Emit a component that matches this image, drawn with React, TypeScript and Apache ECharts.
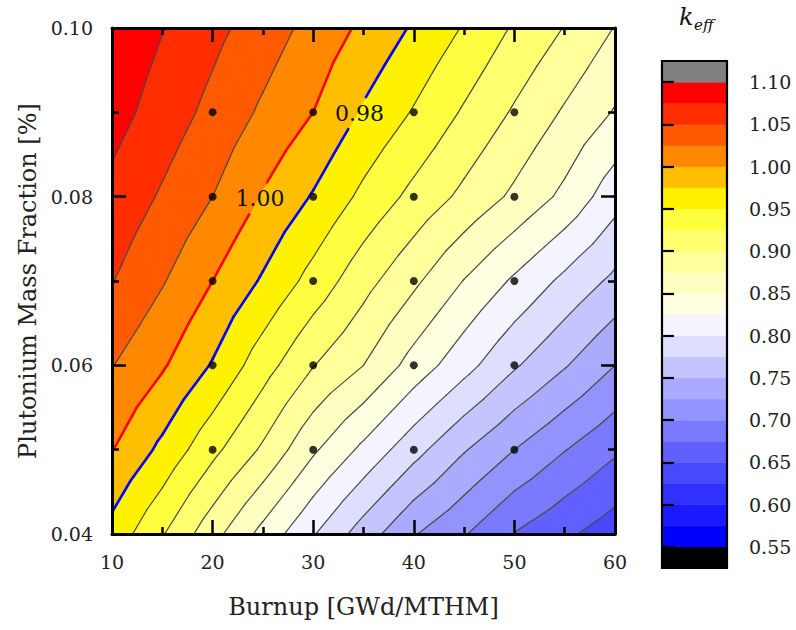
import React, { useEffect, useRef } from "react";
import * as echarts from "echarts";

// ---- Data ----
const burnup = [10, 15, 20, 25, 30, 35, 40, 45, 50, 55, 60];
const puFraction = [0.04, 0.05, 0.06, 0.07, 0.08, 0.09, 0.1];
const keffAt004 = [0.966, 0.927, 0.884, 0.842, 0.802, 0.763, 0.727, 0.702, 0.674, 0.655, 0.636];
const keffAt005 = [1.001, 0.969, 0.932, 0.896, 0.854, 0.819, 0.784, 0.752, 0.725, 0.701, 0.679];
const keffAt006 = [1.026, 1.003, 0.973, 0.936, 0.901, 0.875, 0.84, 0.809, 0.778, 0.752, 0.725];
const keffAt007 = [1.051, 1.027, 1.0, 0.972, 0.941, 0.909, 0.88, 0.849, 0.821, 0.794, 0.769];
const keffAt008 = [1.068, 1.047, 1.025, 0.998, 0.973, 0.944, 0.918, 0.894, 0.87, 0.844, 0.81];
const keffAt009 = [1.085, 1.064, 1.043, 1.021, 1.0, 0.972, 0.948, 0.922, 0.897, 0.872, 0.848];
const keffAt010 = [1.095, 1.076, 1.057, 1.038, 1.017, 0.995, 0.972, 0.948, 0.922, 0.899, 0.874];
const keffGrid = [keffAt004, keffAt005, keffAt006, keffAt007, keffAt008, keffAt009, keffAt010];

const contourLevels = [
  0.55, 0.575, 0.6, 0.625, 0.65, 0.675, 0.7, 0.725, 0.75, 0.775, 0.8, 0.825,
  0.85, 0.875, 0.9, 0.925, 0.95, 0.975, 1.0, 1.025, 1.05, 1.075, 1.1,
];
const bandColors = [
  "#000000", "#0000ff", "#1a1aff", "#3030ff", "#4848ff", "#6060ff", "#7a7aff",
  "#9393ff", "#aaaaff", "#c4c4ff", "#dedeff", "#f4f4ff", "#ffffe2", "#ffffc2",
  "#ffff9c", "#ffff70", "#ffff40", "#fff200", "#ffbf00", "#ff8800", "#ff5a00",
  "#ff2d00", "#ff0000", "#808080",
];
const colorbarTicks = [0.55, 0.6, 0.65, 0.7, 0.75, 0.8, 0.85, 0.9, 0.95, 1.0, 1.05, 1.1];
const colorbarMin = 0.525;
const colorbarMax = 1.125;

const sampleBurnup = [20, 30, 40, 50];
const samplePu = [0.05, 0.06, 0.07, 0.08, 0.09];

const highlightLevels = [1.0, 0.975];
const highlightColors = ["#ff0000", "#0000ff"];
const labelTexts = ["1.00", "0.98"];
const labelLevels = [1.0, 0.975];
const labelBurnup = [24.7, 34.6];
const labelPu = [0.0798, 0.0899];

const FONT = '"DejaVu Serif", serif';

type P = { x: number; y: number; v: number };

function clipBand(poly: P[], lo: number, hi: number): P[] {
  const clip = (pts: P[], keep: (v: number) => boolean, lvl: number): P[] => {
    const out: P[] = [];
    for (let k = 0; k < pts.length; k++) {
      const a = pts[k];
      const b = pts[(k + 1) % pts.length];
      const ain = keep(a.v);
      const bin = keep(b.v);
      if (ain) out.push(a);
      if (ain !== bin) {
        const t = (lvl - a.v) / (b.v - a.v);
        out.push({ x: a.x + t * (b.x - a.x), y: a.y + t * (b.y - a.y), v: lvl });
      }
    }
    return out;
  };
  let r = poly;
  if (isFinite(lo)) r = clip(r, (v) => v >= lo, lo);
  if (r.length < 3) return [];
  if (isFinite(hi)) r = clip(r, (v) => v <= hi, hi);
  return r.length >= 3 ? r : [];
}

function cellTriangles(api: any, i: number, j: number): P[][] {
  const pt = (ii: number, jj: number): P => {
    const c = api.coord([burnup[ii], puFraction[jj]]);
    return { x: c[0], y: c[1], v: keffGrid[jj][ii] };
  };
  const c0 = pt(i, j);
  const c1 = pt(i + 1, j);
  const c2 = pt(i + 1, j + 1);
  const c3 = pt(i, j + 1);
  const ctr: P = {
    x: (c0.x + c1.x + c2.x + c3.x) / 4,
    y: (c0.y + c1.y + c2.y + c3.y) / 4,
    v: (c0.v + c1.v + c2.v + c3.v) / 4,
  };
  return [
    [c0, c1, ctr],
    [c1, c2, ctr],
    [c2, c3, ctr],
    [c3, c0, ctr],
  ];
}

function outsideParts(x0: number, y0: number, x1: number, y1: number, r: number[]): number[][] {
  const dx = x1 - x0;
  const dy = y1 - y0;
  let t0 = 0;
  let t1 = 1;
  const p = [-dx, dx, -dy, dy];
  const q = [x0 - r[0], r[2] - x0, y0 - r[1], r[3] - y0];
  for (let k = 0; k < 4; k++) {
    if (p[k] === 0) {
      if (q[k] < 0) return [[x0, y0, x1, y1]];
    } else {
      const t = q[k] / p[k];
      if (p[k] < 0) t0 = Math.max(t0, t);
      else t1 = Math.min(t1, t);
    }
  }
  if (t0 > t1) return [[x0, y0, x1, y1]];
  const parts: number[][] = [];
  if (t0 > 0) parts.push([x0, y0, x0 + t0 * dx, y0 + t0 * dy]);
  if (t1 < 1) parts.push([x0 + t1 * dx, y0 + t1 * dy, x1, y1]);
  return parts;
}

export default function App() {
  const ref = useRef<HTMLDivElement>(null);

  useEffect(() => {
    if (!ref.current) return;
    const chart = echarts.init(ref.current, undefined, { renderer: "svg" });

    const cells: number[][] = [];
    for (let j = 0; j < puFraction.length - 1; j++) {
      for (let i = 0; i < burnup.length - 1; i++) {
        cells.push([burnup[i], puFraction[j], i, j]);
      }
    }
    const samples: number[][] = [];
    samplePu.forEach((p) => sampleBurnup.forEach((b) => samples.push([b, p])));
    const labels = labelTexts.map((_, k) => [labelBurnup[k], labelPu[k], k]);
    const bands = bandColors.map((_, k) => [0.5, k === 0 ? colorbarMin : contourLevels[k - 1], k]);

    const fillRender = (params: any, api: any) => {
      const i = api.value(2);
      const j = api.value(3);
      const children: any[] = [];
      for (const tri of cellTriangles(api, i, j)) {
        for (let k = 0; k < bandColors.length; k++) {
          const lo = k === 0 ? -Infinity : contourLevels[k - 1];
          const hi = k === contourLevels.length ? Infinity : contourLevels[k];
          const poly = clipBand(tri, lo, hi);
          if (poly.length >= 3) {
            children.push({
              type: "polygon",
              silent: true,
              shape: { points: poly.map((p) => [p.x, p.y]) },
              style: { fill: bandColors[k], stroke: bandColors[k], lineWidth: 0.8 },
            });
          }
        }
      }
      return { type: "group", children };
    };

    const labelRects = (api: any) =>
      labelTexts.map((_, k) => {
        const c = api.coord([labelBurnup[k], labelPu[k]]);
        return { level: labelLevels[k], r: [c[0] - 30, c[1] - 16, c[0] + 30, c[1] + 16] };
      });

    const lineRender = (params: any, api: any) => {
      const i = api.value(2);
      const j = api.value(3);
      const rects = labelRects(api);
      const thin: any[] = [];
      const bold: any[] = [];
      for (const tri of cellTriangles(api, i, j)) {
        for (const L of contourLevels) {
          const pts: number[][] = [];
          for (let e = 0; e < 3; e++) {
            const a = tri[e];
            const b = tri[(e + 1) % 3];
            if ((a.v < L) !== (b.v < L)) {
              const t = (L - a.v) / (b.v - a.v);
              pts.push([a.x + t * (b.x - a.x), a.y + t * (b.y - a.y)]);
            }
          }
          if (pts.length !== 2) continue;
          const hIdx = highlightLevels.findIndex((h) => Math.abs(h - L) < 1e-9);
          let segs = [[pts[0][0], pts[0][1], pts[1][0], pts[1][1]]];
          for (const lr of rects) {
            if (Math.abs(lr.level - L) < 1e-9) {
              const next: number[][] = [];
              segs.forEach((s) => outsideParts(s[0], s[1], s[2], s[3], lr.r).forEach((q) => next.push(q)));
              segs = next;
            }
          }
          for (const s of segs) {
            const el = {
              type: "line",
              silent: true,
              shape: { x1: s[0], y1: s[1], x2: s[2], y2: s[3] },
              style:
                hIdx >= 0
                  ? { stroke: highlightColors[hIdx], lineWidth: 2.6, lineCap: "round" }
                  : { stroke: "#484848", lineWidth: 1.2, lineCap: "round" },
            };
            if (hIdx >= 0) bold.push(el);
            else thin.push(el);
          }
        }
      }
      return { type: "group", children: thin.concat(bold) };
    };

    const labelRender = (params: any, api: any) => {
      const k = api.value(2);
      const c = api.coord([api.value(0), api.value(1)]);
      return {
        type: "text",
        silent: true,
        x: c[0],
        y: c[1],
        style: {
          text: labelTexts[k],
          font: `22px ${FONT}`,
          fill: "#111111",
          align: "center",
          verticalAlign: "middle",
        },
      };
    };

    const bandRender = (params: any, api: any) => {
      const k = api.value(2);
      const lo = k === 0 ? colorbarMin : contourLevels[k - 1];
      const hi = k === contourLevels.length ? colorbarMax : contourLevels[k];
      const a = api.coord([0, hi]);
      const b = api.coord([1, lo]);
      return {
        type: "rect",
        silent: true,
        shape: { x: a[0], y: a[1], width: b[0] - a[0], height: b[1] - a[1] },
        style: { fill: bandColors[k], stroke: bandColors[k], lineWidth: 0.6 },
      };
    };

    const frameRender = (params: any, api: any) => {
      const a = api.coord([0, colorbarMax]);
      const b = api.coord([1, colorbarMin]);
      return {
        type: "rect",
        silent: true,
        shape: { x: a[0], y: a[1], width: b[0] - a[0], height: b[1] - a[1] },
        style: { fill: "none", stroke: "#000000", lineWidth: 2.2 },
      };
    };

    const frameAxis = {
      z: 10,
      axisLine: { show: true, onZero: false, lineStyle: { color: "#000", width: 3 } },
      axisTick: { show: true, inside: true, length: 14, lineStyle: { color: "#000", width: 2.5 } },
      minorTick: { show: true, splitNumber: 2, length: 7, lineStyle: { color: "#000", width: 2.5 } },
      splitLine: { show: false },
      minorSplitLine: { show: false },
    };

    const option: any = {
      animation: false,
      backgroundColor: "#ffffff",
      textStyle: { fontFamily: FONT },
      grid: [
        { left: 112, top: 28, width: 503, height: 506 },
        { left: 662, top: 61, width: 65, height: 507 },
      ],
      graphic: [
        {
          type: "text",
          left: 679,
          top: 5,
          style: { text: "k", font: `italic 24px ${FONT}`, fill: "#111" },
        },
        {
          type: "text",
          left: 694,
          top: 17,
          style: { text: "eff", font: `italic 15px ${FONT}`, fill: "#111" },
        },
      ],
      xAxis: [
        {
          ...frameAxis,
          gridIndex: 0,
          type: "value",
          min: 10,
          max: 60,
          interval: 10,
          position: "bottom",
          axisLabel: { fontSize: 19, color: "#222", margin: 18, fontFamily: FONT },
          name: "Burnup [GWd/MTHM]",
          nameLocation: "middle",
          nameGap: 61,
          nameTextStyle: { fontSize: 24, color: "#222", fontFamily: FONT },
        },
        {
          ...frameAxis,
          gridIndex: 0,
          type: "value",
          min: 10,
          max: 60,
          interval: 10,
          position: "top",
          axisLabel: { show: false },
        },
        { gridIndex: 1, type: "value", min: 0, max: 1, show: false },
      ],
      yAxis: [
        {
          ...frameAxis,
          gridIndex: 0,
          type: "value",
          min: 0.04,
          max: 0.1,
          interval: 0.02,
          position: "left",
          axisLabel: {
            fontSize: 19,
            color: "#222",
            margin: 19,
            fontFamily: FONT,
            formatter: (v: number) => v.toFixed(2),
          },
          name: "Plutonium Mass Fraction [%]",
          nameLocation: "middle",
          nameGap: 70,
          nameTextStyle: { fontSize: 24, color: "#222", fontFamily: FONT },
        },
        {
          ...frameAxis,
          gridIndex: 0,
          type: "value",
          min: 0.04,
          max: 0.1,
          interval: 0.02,
          position: "right",
          axisLabel: { show: false },
        },
        {
          gridIndex: 1,
          type: "value",
          min: colorbarMin,
          max: colorbarMax,
          position: "right",
          z: 10,
          axisLine: { show: false },
          axisTick: {
            show: true,
            inside: false,
            length: 12,
            customValues: colorbarTicks,
            lineStyle: { color: "#000", width: 2.2 },
          },
          axisLabel: {
            show: true,
            customValues: colorbarTicks,
            margin: 22,
            fontSize: 19,
            color: "#222",
            fontFamily: FONT,
            formatter: (v: number) => v.toFixed(2),
          },
          splitLine: { show: false },
        },
      ],
      series: [
        {
          type: "custom",
          name: "fill",
          xAxisIndex: 0,
          yAxisIndex: 0,
          coordinateSystem: "cartesian2d",
          renderItem: fillRender,
          data: cells,
          encode: { x: 0, y: 1 },
          clip: true,
          z: 1,
          silent: true,
        },
        {
          type: "custom",
          name: "lines",
          xAxisIndex: 0,
          yAxisIndex: 0,
          coordinateSystem: "cartesian2d",
          renderItem: lineRender,
          data: cells,
          encode: { x: 0, y: 1 },
          clip: true,
          z: 3,
          silent: true,
        },
        {
          type: "custom",
          name: "labels",
          xAxisIndex: 0,
          yAxisIndex: 0,
          coordinateSystem: "cartesian2d",
          renderItem: labelRender,
          data: labels,
          encode: { x: 0, y: 1 },
          z: 4,
          silent: true,
        },
        {
          type: "scatter",
          name: "samples",
          xAxisIndex: 0,
          yAxisIndex: 0,
          data: samples,
          symbol: "circle",
          symbolSize: 8,
          itemStyle: { color: "#000000" },
          z: 5,
          silent: true,
        },
        {
          type: "custom",
          name: "colorbar",
          xAxisIndex: 2,
          yAxisIndex: 2,
          coordinateSystem: "cartesian2d",
          renderItem: bandRender,
          data: bands,
          encode: { x: 0, y: 1 },
          z: 2,
          silent: true,
        },
        {
          type: "custom",
          name: "colorbarFrame",
          xAxisIndex: 2,
          yAxisIndex: 2,
          coordinateSystem: "cartesian2d",
          renderItem: frameRender,
          data: [[0.5, 0.8]],
          encode: { x: 0, y: 1 },
          z: 6,
          silent: true,
        },
      ],
    };

    chart.setOption(option);
    return () => chart.dispose();
  }, []);

  return (
    <div
      ref={ref}
      style={{ position: "fixed", left: 0, top: 0, width: 796, height: 630, background: "#fff" }}
    />
  );
}
